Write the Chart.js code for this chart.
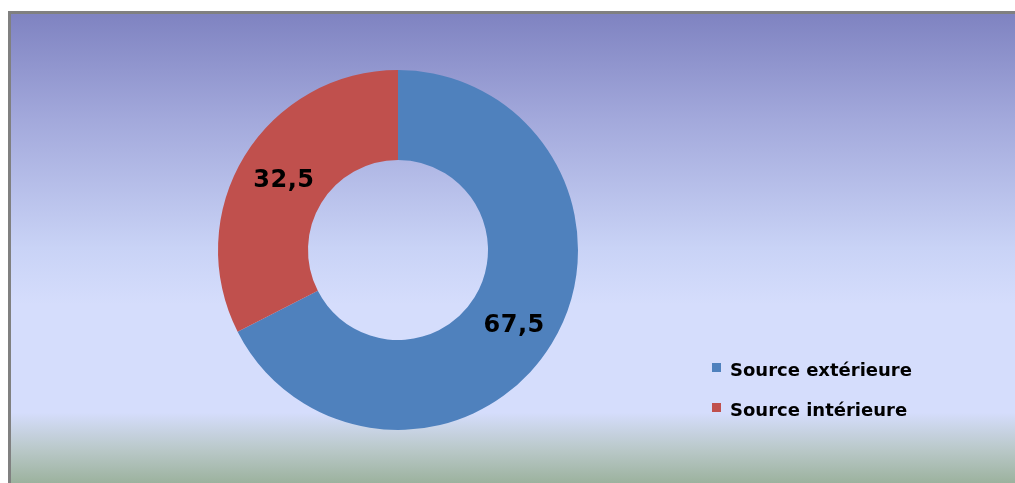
<!DOCTYPE html>
<html>
<head>
<meta charset="utf-8">
<script src="https://cdn.jsdelivr.net/npm/chart.js@4/dist/chart.umd.min.js"></script>
<style>
  html, body { margin: 0; padding: 0; background: #fff; }
  #panel {
    position: absolute;
    left: 8px; top: 11px;
    width: 1004px; height: 469px;
    border-left: 3px solid #808080;
    border-top: 3px solid #808080;
    background: linear-gradient(to bottom,
      #7f83c1 0%, #a2a8db 22%, #c9d3f6 50%, #d5ddfc 62%, #d5ddfc 85%, #b9c8c8 93%, #9cb29e 100%);
  }
  #sources { display: block; }
</style>
</head>
<body>
<div id="panel"><canvas id="sources" width="1004" height="469"></canvas></div>
<script>
const categories = ["Source extérieure", "Source intérieure"];
const parts = [67.5, 32.5];
const couleurs = ["#4f81bd", "#c0504d"];

// valeurs écrites au milieu de chaque part
const labelsParts = {
  id: "labelsParts",
  afterDatasetsDraw(chart) {
    const ctx = chart.ctx;
    const meta = chart.getDatasetMeta(0);
    ctx.save();
    ctx.font = "bold 24px 'DejaVu Sans', Verdana, sans-serif";
    ctx.letterSpacing = "0.5px";
    ctx.fillStyle = "#000";
    ctx.textAlign = "center";
    ctx.textBaseline = "middle";
    meta.data.forEach((arc, i) => {
      const pos = arc.tooltipPosition();
      const txt = chart.data.datasets[0].data[i].toLocaleString("fr-FR");
      ctx.fillText(txt, pos.x + 1, pos.y + (i === 0 ? 5 : 1));
    });
    ctx.restore();
  }
};

// légende à droite, en bas
const legendeDroite = {
  id: "legendeDroite",
  afterDraw(chart) {
    const ctx = chart.ctx;
    const ds = chart.data.datasets[0];
    ctx.save();
    ctx.font = "bold 18px 'DejaVu Sans', Verdana, sans-serif";
    ctx.textBaseline = "alphabetic";
    chart.data.labels.forEach((lab, i) => {
      const y = 349 + i * 40;
      ctx.fillStyle = ds.backgroundColor[i];
      ctx.fillRect(701, y, 9, 9);
      ctx.fillStyle = "#000";
      ctx.fillText(lab, 719, y + 13);
    });
    ctx.restore();
  }
};

new Chart(document.getElementById("sources"), {
  type: "doughnut",
  data: {
    labels: categories,
    datasets: [{
      data: parts,
      backgroundColor: couleurs,
      borderWidth: 0
    }]
  },
  options: {
    responsive: false,
    animation: false,
    cutout: "50%",
    layout: { padding: { left: 207, right: 437, top: 56, bottom: 53 } },
    plugins: {
      legend: { display: false },
      tooltip: { enabled: false }
    }
  },
  plugins: [labelsParts, legendeDroite]
});
</script>
</body>
</html>
